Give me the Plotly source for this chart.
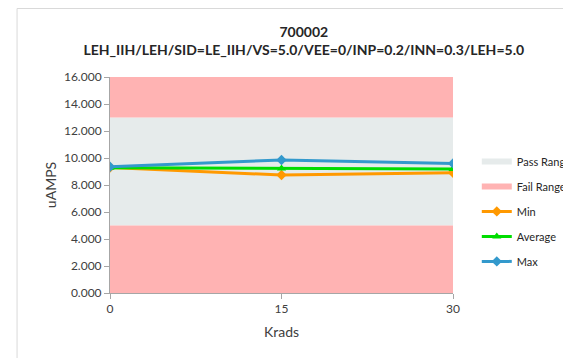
import plotly.graph_objs as go

krads = [0, 15, 30]
min_vals = [9.30, 8.74, 8.90]
avg_vals = [9.28, 9.23, 9.18]
max_vals = [9.35, 9.85, 9.60]
pass_low = 5.0
pass_high = 13.0
axis_top = 16.0
y_ticks = [0, 2, 4, 6, 8, 10, 12, 14, 16]

FONT = "Lato"

fig = go.Figure()

x_band = [krads[0], krads[-1], krads[-1], krads[0]]

# pass band first so it sits first in the legend
fig.add_trace(go.Scatter(
    x=x_band, y=[pass_low, pass_low, pass_high, pass_high],
    fill="toself", fillcolor="#E6EBEB", mode="none",
    name="Pass Range", legendgroup="pass", hoverinfo="skip",
))
fig.add_trace(go.Scatter(
    x=x_band, y=[0, 0, pass_low, pass_low],
    fill="toself", fillcolor="#FFB3B3", mode="none",
    name="Fail Range", legendgroup="fail", hoverinfo="skip",
))
fig.add_trace(go.Scatter(
    x=x_band, y=[pass_high, pass_high, axis_top, axis_top],
    fill="toself", fillcolor="#FFB3B3", mode="none",
    name="Fail Range", legendgroup="fail", showlegend=False, hoverinfo="skip",
))

series = [
    ("Min", min_vals, "#FF9900", "diamond"),
    ("Average", avg_vals, "#00DD00", "triangle-up"),
    ("Max", max_vals, "#3399CC", "diamond"),
]
for name, vals, color, symbol in series:
    fig.add_trace(go.Scatter(
        x=krads, y=vals, mode="lines+markers", name=name, legendgroup=name,
        line=dict(color=color, width=3),
        marker=dict(symbol=symbol, size=8, color=color),
    ))

# page body has an 8px margin, so margins are 8px less than the target
fig.update_layout(
    width=571, height=358,
    margin=dict(l=102, r=126, t=69, b=73),
    paper_bgcolor="white", plot_bgcolor="white",
    font=dict(family=FONT, size=11, color="#404040"),
    title=dict(
        text="<b>700002<br>LEH_IIH/LEH/SID=LE_IIH/VS=5.0/VEE=0/INP=0.2/INN=0.3/LEH=5.0</b>",
        x=0.518, xanchor="center", y=0.920, yanchor="middle",
        font=dict(family=FONT, size=14, color="#262626"),
    ),
    legend=dict(
        xref="container", yref="container",
        x=0.821, y=0.612, xanchor="left", yanchor="top",
        font=dict(family=FONT, size=11, color="#262626"),
        traceorder="grouped", tracegroupgap=6, itemwidth=30,
        borderwidth=0, bgcolor="rgba(0,0,0,0)",
    ),
    showlegend=True,
    shapes=[dict(
        type="rect", xref="paper", yref="paper",
        x0=-0.271, x1=1.45, y0=-0.45, y1=1.317,
        line=dict(color="#D9D9D9", width=1), fillcolor="rgba(0,0,0,0)",
    )],
)

fig.update_xaxes(
    range=[krads[0], krads[-1]], tickvals=krads,
    showgrid=False, zeroline=False,
    showline=True, linecolor="#A6A6A6", linewidth=1,
    ticks="outside", ticklen=5, tickcolor="#A6A6A6",
    tickfont=dict(size=12),
    title=dict(text="Krads", font=dict(family=FONT, size=14, color="#404040"), standoff=11),
)
fig.update_yaxes(
    range=[0, axis_top], tickvals=y_ticks,
    tickformat=".3f",
    showgrid=False, zeroline=False,
    showline=True, linecolor="#A6A6A6", linewidth=1,
    ticks="outside", ticklen=5, tickcolor="#A6A6A6",
    tickfont=dict(size=12),
    title=dict(text="uAMPS", font=dict(family=FONT, size=14, color="#404040"), standoff=4),
)

fig.write_html("out.html")
